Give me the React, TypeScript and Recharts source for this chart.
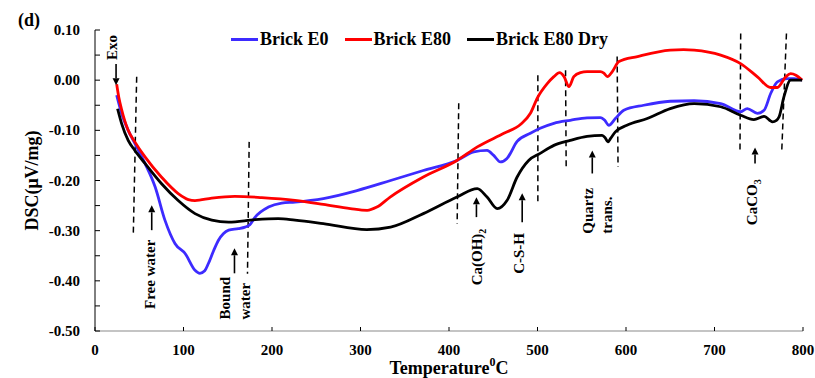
import React from 'react';
import { LineChart, Line, XAxis, YAxis, ReferenceLine, ReferenceDot } from 'recharts';

// ---- data ----
const e0Temp = [24.5, 30, 37.5, 45, 56.5, 68, 79, 90.5, 102, 113, 118.5, 124, 128, 134, 139.5, 145, 151, 162, 169.5, 175, 181, 196, 211, 226, 258, 296, 334, 371, 409, 428, 443, 450.5, 458, 465.5, 477, 492, 503, 518.5, 537, 556, 571, 576, 580.5, 588, 597.5, 620, 650, 677, 707, 729.5, 737, 748.5, 756, 763.5, 771, 782, 790, 799];
const e0Dsc = [-0.030, -0.066, -0.100, -0.126, -0.166, -0.213, -0.279, -0.326, -0.346, -0.379, -0.385, -0.380, -0.366, -0.340, -0.319, -0.306, -0.299, -0.296, -0.293, -0.288, -0.273, -0.253, -0.245, -0.243, -0.236, -0.220, -0.200, -0.180, -0.160, -0.143, -0.140, -0.150, -0.163, -0.156, -0.122, -0.106, -0.096, -0.086, -0.080, -0.075, -0.0745, -0.080, -0.090, -0.0765, -0.060, -0.050, -0.042, -0.041, -0.0466, -0.063, -0.0566, -0.066, -0.060, -0.0266, -0.0033, 0.003, 0.003, 0.000];

const e80Temp = [24.5, 27, 30, 37.5, 45, 56.5, 75, 94, 105.5, 113, 132, 158, 188.5, 226, 258, 288.5, 307.5, 318.5, 333.5, 371, 409, 432, 462, 481, 492, 500, 511, 518.5, 525, 530, 535.5, 541, 548.5, 556, 571, 575, 579, 584.5, 592, 613, 650, 665, 677, 707, 729.5, 748.5, 763.5, 771, 780.5, 786, 792, 799];
const e80Dsc = [-0.008, -0.035, -0.058, -0.100, -0.123, -0.153, -0.193, -0.226, -0.238, -0.240, -0.235, -0.2315, -0.234, -0.2395, -0.2475, -0.256, -0.2595, -0.253, -0.233, -0.193, -0.160, -0.133, -0.106, -0.088, -0.066, -0.035, -0.007, 0.007, 0.015, 0.007, -0.013, 0.007, 0.015, 0.017, 0.017, 0.014, 0.007, 0.017, 0.037, 0.047, 0.060, 0.061, 0.060, 0.050, 0.033, 0.0066, -0.0146, -0.0146, 0.0066, 0.013, 0.010, 0.000];

const dryTemp = [25.5, 30, 37.5, 45, 56.5, 75, 94, 113, 132, 151, 181, 207, 226, 258, 307, 334, 371, 409, 432, 443, 454.5, 465.5, 477, 490, 503, 518.5, 537, 556, 573, 576.5, 579.5, 583, 588, 601, 624, 650, 677, 707, 729.5, 744.5, 756, 765.5, 770, 773, 778.5, 786, 799];
const dryDsc = [-0.057, -0.086, -0.120, -0.140, -0.166, -0.206, -0.240, -0.266, -0.279, -0.283, -0.278, -0.276, -0.279, -0.286, -0.298, -0.293, -0.266, -0.233, -0.216, -0.233, -0.256, -0.240, -0.193, -0.160, -0.146, -0.130, -0.120, -0.112, -0.110, -0.115, -0.123, -0.115, -0.103, -0.090, -0.0765, -0.0566, -0.0466, -0.053, -0.070, -0.0785, -0.072, -0.083, -0.080, -0.073, -0.033, 0.000, 0.000];

const seriesNames = ['Brick E0', 'Brick E80', 'Brick E80 Dry'];
const seriesColors = ['#3D2BFF', '#FF0000', '#000000'];

const xTicks = [0, 100, 200, 300, 400, 500, 600, 700, 800];
const yTicks = [-0.5, -0.45, -0.4, -0.35, -0.3, -0.25, -0.2, -0.15, -0.1, -0.05, 0, 0.05, 0.1];

// dashed guide lines: [xTop, yTop, xBottom, yBottom]
const dashLines = [
  [47.1, 0.007, 43.3, -0.306],
  [174.2, -0.123, 172.3, -0.386],
  [411, -0.046, 409.2, -0.286],
  [500.4, 0.010, 500.4, -0.2475],
  [531.7, 0.020, 532.4, -0.173],
  [590, 0.047, 591, -0.173],
  [729.6, 0.093, 728.8, -0.141],
  [781.3, 0.093, 776, -0.141],
];

// arrows: [x, yTail, yHead]
const arrows = [
  [23.8, 0.032, -0.010],
  [64.1, -0.299, -0.2495],
  [157.6, -0.385, -0.335],
  [431, -0.273, -0.2335],
  [482.7, -0.283, -0.2255],
  [561.9, -0.186, -0.14],
  [745.8, -0.166, -0.134],
];

// rotated annotation texts: x, y, text, subscript, anchor
const notes = [
  { x: 18.9, y: 0.065, text: 'Exo', sub: '', anchor: 'middle' },
  { x: 62.2, y: -0.456, text: 'Free water', sub: '', anchor: 'start' },
  { x: 147, y: -0.477, text: 'Bound', sub: '', anchor: 'start' },
  { x: 169.7, y: -0.477, text: 'water', sub: '', anchor: 'start' },
  { x: 431.8, y: -0.409, text: 'Ca(OH)', sub: '2', anchor: 'start' },
  { x: 478.8, y: -0.386, text: 'C-S-H', sub: '', anchor: 'start' },
  { x: 556.9, y: -0.306, text: 'Quartz', sub: '', anchor: 'start' },
  { x: 578.8, y: -0.306, text: 'trans.', sub: '', anchor: 'start' },
  { x: 742.9, y: -0.289, text: 'CaCO', sub: '3', anchor: 'start' },
];

const toPoints = (t: number[], v: number[]) => t.map((x, i) => ({ t: x, v: v[i] }));
const seriesData = [toPoints(e0Temp, e0Dsc), toPoints(e80Temp, e80Dsc), toPoints(dryTemp, dryDsc)];

const FONT = "'Liberation Serif', 'Times New Roman', serif";

const YTick = (props: any) => {
  const { x, y, payload } = props;
  const ax = x + 15;
  const v = payload.value;
  const major = Math.round(v * 100) % 10 === 0;
  return (
    <g>
      <line x1={ax} y1={y} x2={ax + 5} y2={y} stroke="#000" strokeWidth={1} />
      {major && (
        <text x={x} y={y} textAnchor="end" dominantBaseline="central" fontFamily={FONT} fontWeight="bold" fontSize={15} fill="#000">
          {v.toFixed(2)}
        </text>
      )}
    </g>
  );
};

const XTick = (props: any) => {
  const { x, y, payload } = props;
  const ay = y - 12;
  return (
    <g>
      <line x1={x} y1={ay} x2={x} y2={ay - 4} stroke="#000" strokeWidth={1} />
      <text x={x} y={ay + 19} textAnchor="middle" dominantBaseline="central" fontFamily={FONT} fontWeight="bold" fontSize={15} fill="#000">
        {payload.value}
      </text>
    </g>
  );
};

const arrowShape = (up: boolean) => (p: any) => {
  const x = p.x1;
  const ya = p.y1;
  const yb = p.y2;
  const head = up ? Math.min(ya, yb) : Math.max(ya, yb);
  const tail = up ? Math.max(ya, yb) : Math.min(ya, yb);
  const dir = up ? 1 : -1;
  const hl = 7;
  const hw = 3.5;
  return (
    <g>
      <line x1={x} y1={tail} x2={x} y2={head + dir * hl} stroke="#000" strokeWidth={1.6} />
      <polygon points={`${x},${head} ${x - hw},${head + dir * hl} ${x + hw},${head + dir * hl}`} fill="#000" />
    </g>
  );
};

const RotText = (props: any) => {
  const { viewBox, text, sub, anchor } = props;
  const x = viewBox.x + (viewBox.width || 0) / 2;
  const y = viewBox.y + (viewBox.height || 0) / 2;
  return (
    <text
      x={x}
      y={y}
      transform={`rotate(-90 ${x} ${y})`}
      textAnchor={anchor}
      dominantBaseline="central"
      fontFamily={FONT}
      fontWeight="bold"
      fontSize={15}
      fill="#000"
    >
      {text}
      {sub && (
        <tspan fontSize={10} dy={5}>
          {sub}
        </tspan>
      )}
    </text>
  );
};

const YLabel = (props: any) => {
  const { viewBox } = props;
  const x = viewBox.x + 12;
  const y = viewBox.y + viewBox.height / 2;
  return (
    <text x={x} y={y} transform={`rotate(-90 ${x} ${y})`} textAnchor="middle" dominantBaseline="central" fontFamily={FONT} fontWeight="bold" fontSize={18} fill="#000">
      DSC(μV/mg)
    </text>
  );
};

const XLabel = (props: any) => {
  const { viewBox } = props;
  const x = viewBox.x + viewBox.width / 2;
  const y = viewBox.y + 37;
  return (
    <text x={x} y={y} textAnchor="middle" dominantBaseline="central" fontFamily={FONT} fontWeight="bold" fontSize={18} fill="#000">
      Temperature
      <tspan fontSize={12} dy={-6}>0</tspan>
      <tspan dy={6}>C</tspan>
    </text>
  );
};

export default function App() {
  return (
    <div style={{ position: 'absolute', left: 0, top: 0, width: 815, height: 378, background: '#fff' }}>
      <div style={{ position: 'absolute', left: 18, top: 9, fontFamily: FONT, fontWeight: 'bold', fontSize: 18, lineHeight: '22px' }}>(d)</div>
      <div
        style={{
          position: 'absolute',
          left: 231,
          top: 28,
          height: 22,
          display: 'flex',
          alignItems: 'center',
          fontFamily: FONT,
          fontWeight: 'bold',
          fontSize: 18,
          whiteSpace: 'nowrap',
          zIndex: 2,
        }}
      >
        {seriesNames.map((n, i) => (
          <div key={n} style={{ display: 'flex', alignItems: 'center', marginRight: 16 }}>
            <span style={{ display: 'inline-block', width: 27, height: 3, background: seriesColors[i], marginRight: 2 }} />
            <span>{n}</span>
          </div>
        ))}
      </div>
      <LineChart width={815} height={378} margin={{ top: 30, right: 12, bottom: 17, left: 20 }}>
        <XAxis
          type="number"
          dataKey="t"
          domain={[0, 800]}
          ticks={xTicks}
          allowDataOverflow
          height={30}
          tickSize={0}
          tickMargin={12}
          tickLine={false}
          tick={<XTick />}
          axisLine={{ stroke: '#8a8a8a', strokeWidth: 1.2 }}
          label={<XLabel />}
        />
        <YAxis
          type="number"
          domain={[-0.5, 0.1]}
          ticks={yTicks}
          allowDataOverflow
          width={75}
          tickSize={0}
          tickMargin={15}
          tickLine={false}
          tick={<YTick />}
          axisLine={{ stroke: '#000', strokeWidth: 1 }}
          label={<YLabel />}
        />
        {dashLines.map((d, i) => (
          <ReferenceLine
            key={'d' + i}
            segment={[{ x: d[0], y: d[1] }, { x: d[2], y: d[3] }]}
            stroke="#000"
            strokeWidth={1.5}
            strokeDasharray="6 4"
            ifOverflow="visible"
          />
        ))}
        {seriesData.map((data, i) => (
          <Line
            key={seriesNames[i]}
            data={data}
            dataKey="v"
            name={seriesNames[i]}
            type="monotone"
            stroke={seriesColors[i]}
            strokeWidth={2.8}
            dot={false}
            activeDot={false}
            isAnimationActive={false}
          />
        ))}
        {arrows.map((a, i) => (
          <ReferenceLine
            key={'a' + i}
            segment={[{ x: a[0], y: a[1] }, { x: a[0], y: a[2] }]}
            stroke="#000"
            ifOverflow="visible"
            shape={arrowShape(a[2] > a[1])}
          />
        ))}
        {notes.map((n, i) => (
          <ReferenceDot
            key={'n' + i}
            x={n.x}
            y={n.y}
            r={0}
            fill="none"
            stroke="none"
            ifOverflow="visible"
            label={<RotText text={n.text} sub={n.sub} anchor={n.anchor} />}
          />
        ))}
      </LineChart>
    </div>
  );
}
